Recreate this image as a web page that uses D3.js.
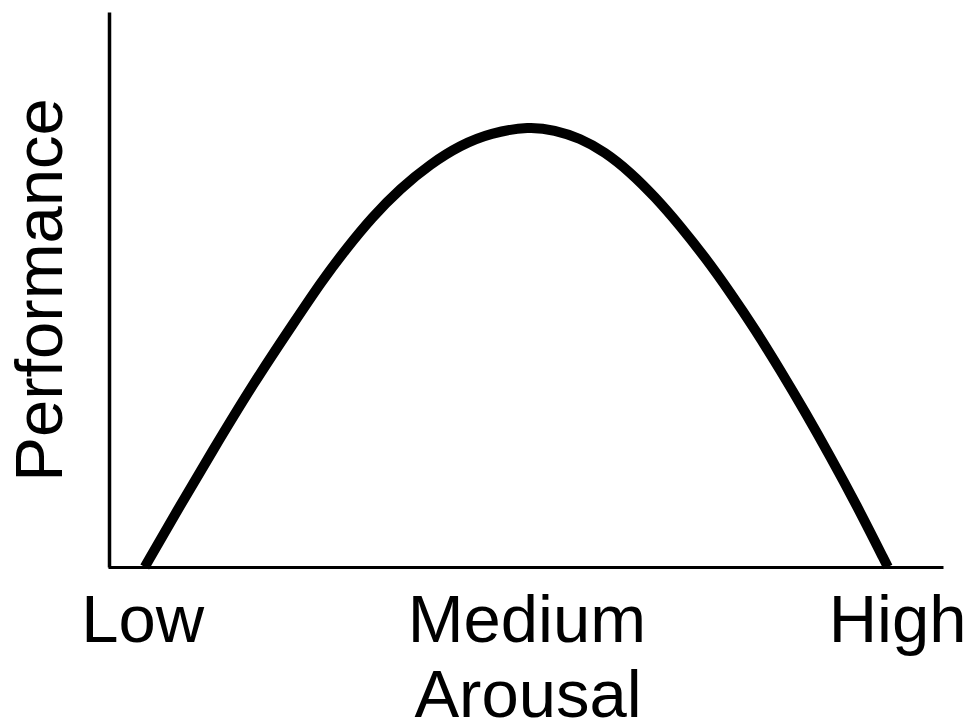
<!DOCTYPE html>
<html>
<head>
<meta charset="utf-8">
<script src="https://cdn.jsdelivr.net/npm/d3@7"></script>
<style>
  html, body { margin: 0; padding: 0; background: #fff; }
  svg { display: block; }
  text { font-family: "Liberation Sans", Arial, Helvetica, sans-serif; fill: #000; }
</style>
</head>
<body>
<svg id="chart" width="970" height="723"></svg>
<script>
// Data (arousal 0-100, performance 0-100)
const arousal =     [4.4, 7.9, 12.5, 17.5, 22.3, 25.6, 28.5, 31.6, 35.0, 38.6, 42.2, 45.8, 50.5, 53.5, 56.5, 59.5, 62.5, 65.5, 68.5, 71.5, 74.5, 77.5, 80.5, 83.5, 86.5, 89.5, 93.4];
const performance = [0,   9.2, 20.9, 33.3, 44.1, 51.5, 57.3, 63.0, 68.2, 72.6, 76.0, 78.2, 79.4, 78.7, 77.3, 74.8, 71.2, 66.7, 61.5, 55.8, 49.5, 42.8, 35.5, 27.9, 19.9, 11.6, 0];
const tickLabels = ["Low", "Medium", "High"];
const tickPositions = [4.1, 50.1, 94.5];
const xTitle = "Arousal";
const yTitle = "Performance";

(function () {
const svg = d3.select("#chart");
const mLeft = 108, mRight = 943, mTop = 12, mBottom = 567;

const x = d3.scaleLinear().domain([0, 100]).range([mLeft, mRight]);
const y = d3.scaleLinear().domain([0, 100]).range([mBottom, mTop]);

const fontSize = 67;

// X axis
const xAxis = svg.append("g")
  .attr("transform", `translate(0,${mBottom})`)
  .call(d3.axisBottom(x)
    .tickValues(tickPositions)
    .tickFormat((d, i) => tickLabels[i])
    .tickSize(0)
    .tickSizeOuter(0));
xAxis.select(".domain").attr("stroke", "#000").attr("stroke-width", 3);
xAxis.selectAll(".tick text")
  .attr("y", 75).attr("dy", 0)
  .style("font-size", fontSize + "px")
  .style("font-family", '"Liberation Sans", Arial, sans-serif')
  .attr("fill", "#000");

// Y axis
const yAxis = svg.append("g")
  .attr("transform", `translate(${mLeft + 1},0)`)
  .call(d3.axisLeft(y).tickValues([]).tickSize(0).tickSizeOuter(0));
yAxis.select(".domain").attr("stroke", "#000").attr("stroke-width", 3.5);

// Curve
const pts = arousal.map((a, i) => [a, performance[i]]);
const line = d3.line()
  .x(d => x(d[0]))
  .y(d => y(d[1]))
  .curve(d3.curveBasis);

svg.append("path")
  .datum(pts)
  .attr("d", line)
  .attr("fill", "none")
  .attr("stroke", "#000")
  .attr("stroke-width", 10)
  .attr("stroke-linejoin", "round");

// Axis titles
svg.append("text")
  .attr("x", 528).attr("y", 717)
  .attr("text-anchor", "middle")
  .style("font-size", fontSize + "px")
  .text(xTitle);

svg.append("text")
  .attr("transform", "translate(62,290) rotate(-90)")
  .attr("text-anchor", "middle")
  .style("font-size", fontSize + "px")
  .text(yTitle);
})();
</script>
</body>
</html>
